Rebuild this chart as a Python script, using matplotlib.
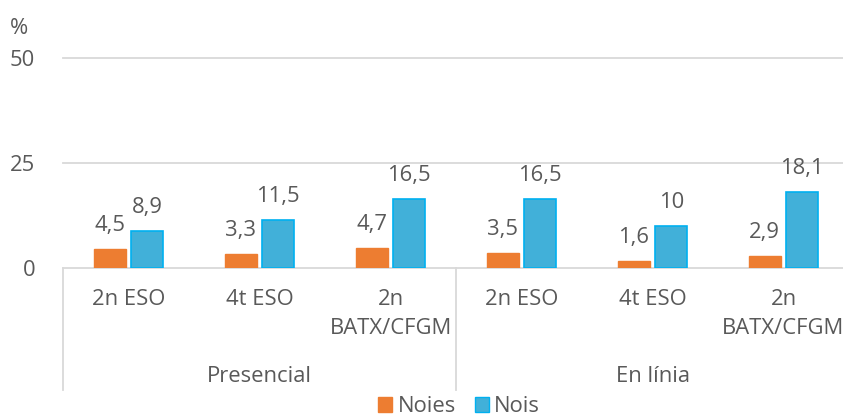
import matplotlib
matplotlib.use("Agg")
import matplotlib.pyplot as plt
from matplotlib.patches import Patch
import matplotlib.transforms as mtransforms

categories = ["2n ESO", "4t ESO", "2n\nBATX/CFGM", "2n ESO", "4t ESO", "2n\nBATX/CFGM"]
groups = ["Presencial", "En línia"]
noies = [4.5, 3.3, 4.7, 3.5, 1.6, 2.9]
nois = [8.9, 11.5, 16.5, 16.5, 10.0, 18.1]
labels_noies = ["4,5", "3,3", "4,7", "3,5", "1,6", "2,9"]
labels_nois = ["8,9", "11,5", "16,5", "16,5", "10", "18,1"]
yticks = [0, 25, 50]

W, H = 843, 418
plt.rcParams['font.family'] = ['Open Sans', 'DejaVu Sans']
txt = '#595959'
fs = 15.8

fig = plt.figure(figsize=(W/100, H/100), dpi=100)
def fy(py):
    return 1 - py / H
ax = fig.add_axes([63/W, fy(268), (849-63)/W, (268-58)/H])
ax.set_xlim(-0.5, 5.5)
ax.set_ylim(0, 50)
for s in ax.spines.values():
    s.set_visible(False)
ax.set_xticks([])
ax.set_yticks(yticks)
ax.set_yticklabels([str(t) for t in yticks], fontsize=fs, color=txt)
ax.tick_params(axis='y', length=0, pad=20)
for t in yticks:
    ax.axhline(t, color='#D9D9D9', lw=1.3, zorder=0, clip_on=False)

x = list(range(len(categories)))
w = 0.245
off = 0.143
orange = '#ED7D31'
blue = '#41B0D9'
ax.bar([i - off for i in x], noies, w, color=orange, edgecolor=orange, lw=1, zorder=2)
ax.bar([i + off for i in x], nois, w, color=blue, edgecolor='#00B0F0', lw=1.2, zorder=2)

for i in x:
    ax.annotate(labels_noies[i], (i - off, noies[i]), xytext=(0, 13), textcoords='offset points',
                ha='center', va='baseline', fontsize=fs, color=txt)
    ax.annotate(labels_nois[i], (i + off, nois[i]), xytext=(0, 13), textcoords='offset points',
                ha='center', va='baseline', fontsize=fs, color=txt)

trans = mtransforms.blended_transform_factory(ax.transData, fig.transFigure)
for i, c in enumerate(categories):
    ax.text(i, fy(289), c, transform=trans, ha='center', va='top', fontsize=fs,
            color=txt, linespacing=1.5, clip_on=False)
for g, gi in enumerate(groups):
    ax.text(1 + 3*g, fy(376), gi, transform=trans, ha='center', va='center', fontsize=fs,
            color=txt, clip_on=False)
for xs in [-0.5, 2.5, 5.5]:
    ax.plot([xs, xs], [fy(268), fy(390)], transform=trans, color='#D9D9D9', lw=1.3, clip_on=False)

fig.text(10/W, fy(28), "%", fontsize=fs, color=txt, ha='left', va='center')

handles = [Patch(facecolor=orange, edgecolor=orange), Patch(facecolor=blue, edgecolor='#00B0F0')]
fig.legend(handles, ["Noies", "Nois"], loc='center', bbox_to_anchor=(459/W, fy(407)), ncol=2,
           frameon=False, fontsize=fs, handlelength=0.65, handleheight=0.65,
           handletextpad=0.25, columnspacing=0.85, labelcolor=txt, borderpad=0)

fig.savefig("out.png", dpi=100)
